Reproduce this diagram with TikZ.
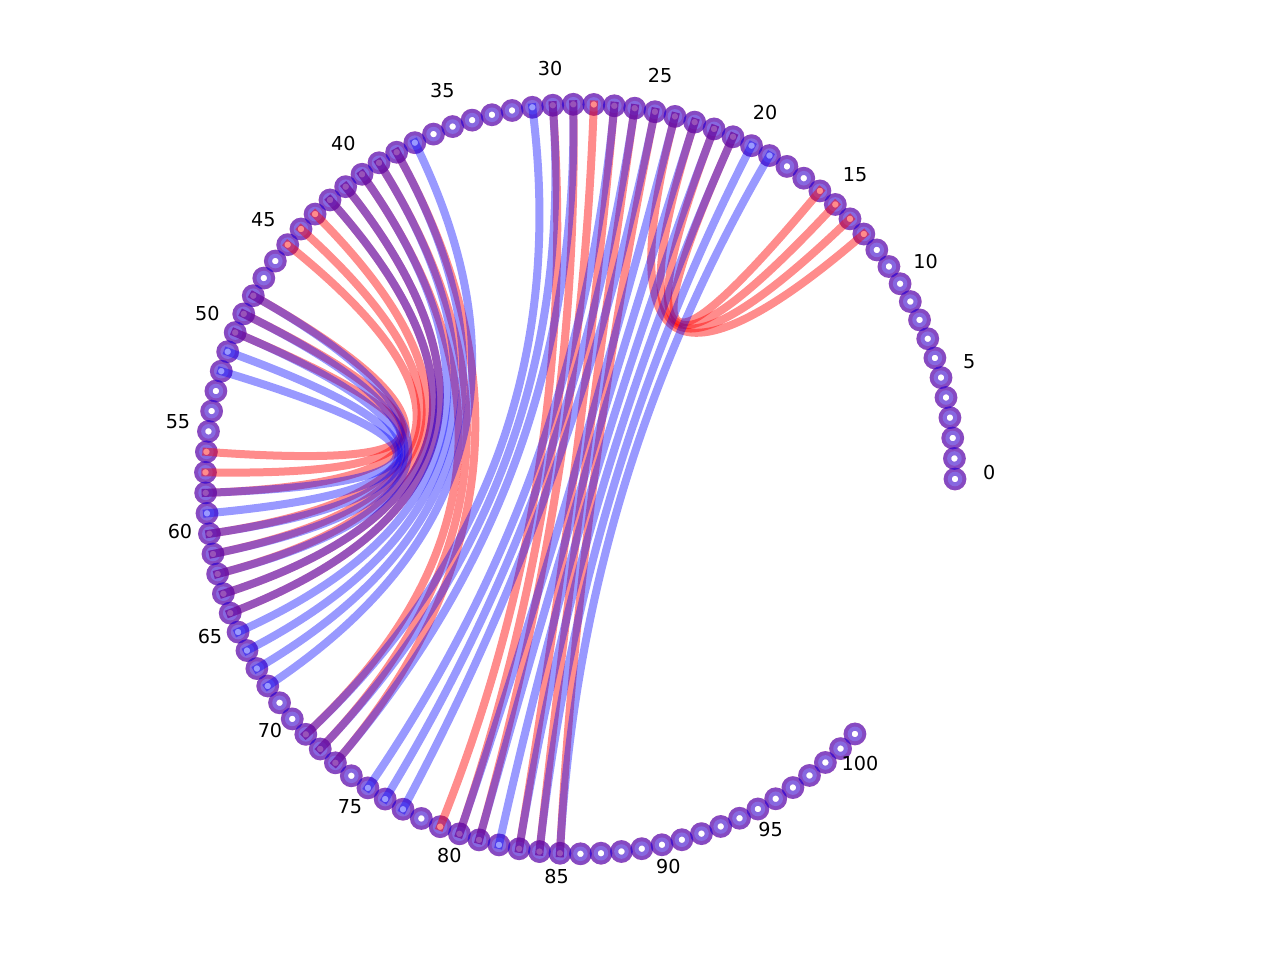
\documentclass[tikz,border=0pt]{standalone}
\usepackage{fontspec}
\setmainfont{DejaVu Sans}
\usetikzlibrary{calc}
\begin{document}
\begin{tikzpicture}[x=0.5pt,y=-0.5pt,
  redge/.style={draw=red,draw opacity=0.45,line width=4pt,line cap=rect},
  bedge/.style={draw=blue,draw opacity=0.4,line width=4pt,line cap=rect},
  nface/.style={fill=white,fill opacity=0.5},
  rring/.style={draw=red,draw opacity=0.45,line width=4pt},
  bring/.style={draw=blue,draw opacity=0.47,line width=4pt},
  lbl/.style={inner sep=0pt,font=\fontsize{9.6pt}{11pt}\selectfont,text=black}]
\useasboundingbox (0,0) rectangle (1280,960);
\coordinate (c) at (580.2,479);
\foreach \i in {0,...,101}{\coordinate (n\i) at ({580.2+374.8*cos(3.14*\i)},{479-374.8*sin(3.14*\i)});}
% nodes: red layer then blue layer
\foreach \i in {0,...,101}{\path[nface] (n\i) circle[radius=3.65pt]; \path[rring] (n\i) circle[radius=3.65pt];}
\foreach \i in {0,...,101}{\path[nface] (n\i) circle[radius=3.65pt]; \path[bring] (n\i) circle[radius=3.65pt];}
% red structure
\foreach \a/\b in {13/24,14/23,15/22,16/21,25/85,26/84,27/83,28/81,29/80,30/79,38/73,39/72,40/71,41/64,42/63,43/62,44/61,45/60,48/58,49/57,50/56}
  {\draw[redge] (n\a) .. controls ($(n\a)!2/3!(c)$) and ($(n\b)!2/3!(c)$) .. (n\b);}
% blue structure
\foreach \a/\b in {19/85,20/84,21/83,22/82,23/81,24/80,25/77,26/76,27/75,29/73,30/72,31/71,37/68,38/67,39/66,40/65,41/64,42/63,48/62,49/61,50/60,51/59,52/58}
  {\draw[bedge] (n\a) .. controls ($(n\a)!2/3!(c)$) and ($(n\b)!2/3!(c)$) .. (n\b);}
% labels
\foreach \k/\x/\y in {0/989.3/472.3,5/969.3/361.7,10/925.7/261.7,15/855/175,20/765/112.3,25/660/75.7,30/550/68.3,35/442.3/91,40/343.3/143.3,45/263.3/219.3,50/207.3/314,55/178/421.7,60/180/531.7,65/210/636.7,70/270/730,75/350/806.7,80/449.3/855,85/556.7/876,90/668.3/866.7,95/770.7/829.3,100/860/763}
  {\node[lbl] (l\k) at (\x,\y) {\k};}
\end{tikzpicture}
\end{document}
